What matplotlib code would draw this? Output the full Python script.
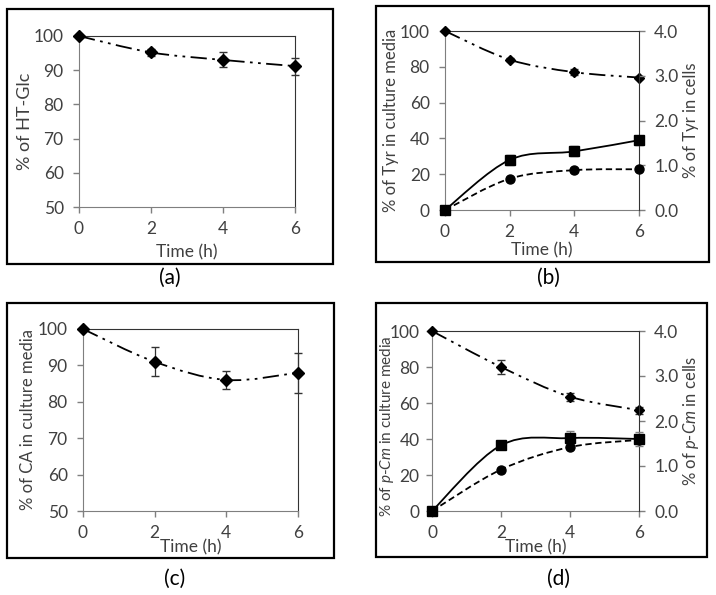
import matplotlib
matplotlib.use("Agg")
import matplotlib.pyplot as plt
import numpy as np
from matplotlib.path import Path
from matplotlib.patches import PathPatch, Rectangle

plt.rcParams['font.family'] = ['Lato', 'DejaVu Sans']
plt.rcParams['mathtext.fontset'] = 'custom'
plt.rcParams['mathtext.it'] = 'Lato:italic'
plt.rcParams['mathtext.rm'] = 'Lato'

time = [0, 2, 4, 6]

# panel (a)
htglc = [100, 95.2, 93.0, 91.2]
htglc_err = [0.3, 1.0, 2.2, 2.5]

# panel (b)
tyr_media = [100, 84, 77, 74]
tyr_media_err = [0.3, 1.0, 1.8, 0.8]
tyr_sq = [0.0, 1.12, 1.31, 1.56]
tyr_sq_err = [0.0, 0.12, 0.11, 0.10]
tyr_ci = [0.0, 0.70, 0.89, 0.91]
tyr_ci_err = [0.0, 0.03, 0.03, 0.03]

# panel (c)
ca = [100, 91, 86, 88]
ca_err = [0.3, 4.0, 2.5, 5.5]

# panel (d)
pcm_media = [100, 80, 63.5, 56]
pcm_media_err = [0.3, 4.0, 2.2, 2.0]
pcm_sq = [0.0, 1.46, 1.62, 1.60]
pcm_sq_err = [0.0, 0.03, 0.16, 0.16]
pcm_ci = [0.0, 0.92, 1.42, 1.58]
pcm_ci_err = [0.0, 0.04, 0.05, 0.05]

DASHDOTDOT = (0, (9, 3, 1.5, 3, 1.5, 3))
GREY = '#404040'
SPINE = '#7f7f7f'
TFS = 12.5   # tick font size


def smooth(ax, x, y, ls, lw=1.3):
    # excel-style smoothed line through the points (bezier segments)
    x = np.asarray(x, float)
    y = np.asarray(y, float)
    n = len(x)
    verts = [(x[0], y[0])]
    codes = [Path.MOVETO]
    for i in range(n - 1):
        p0 = np.array([x[max(i - 1, 0)], y[max(i - 1, 0)]])
        p1 = np.array([x[i], y[i]])
        p2 = np.array([x[i + 1], y[i + 1]])
        p3 = np.array([x[min(i + 2, n - 1)], y[min(i + 2, n - 1)]])
        c1 = p1 + (p2 - p0) / 6.0
        c2 = p2 - (p3 - p1) / 6.0
        verts += [tuple(c1), tuple(c2), tuple(p2)]
        codes += [Path.CURVE4] * 3
    ax.add_patch(PathPatch(Path(verts, codes), fill=False, lw=lw,
                           ls=ls, edgecolor='black', zorder=3))


def style(ax, ylim, yticks, ypad=7):
    ax.set_xlim(0, 6)
    ax.set_xticks(time)
    ax.set_ylim(*ylim)
    ax.set_yticks(yticks)
    for s in ['left', 'bottom']:
        ax.spines[s].set_color(SPINE)
    ax.spines['top'].set_color('#333333')
    ax.spines['right'].set_color('#333333')
    ax.tick_params(axis='both', direction='out', length=4, width=1,
                   color=SPINE, labelsize=TFS, labelcolor=GREY)
    ax.tick_params(axis='y', pad=ypad)
    ax.tick_params(axis='x', pad=6)


def labels(ax, ylabel, yfs, ylx, xly, yly=0.5):
    ax.set_ylabel(ylabel, fontsize=yfs, color=GREY, va='center')
    ax.set_xlabel('Time (h)', fontsize=12.5, color=GREY, va='center')
    ax.yaxis.set_label_coords(ylx, yly)
    ax.xaxis.set_label_coords(0.5, xly)


fig = plt.figure(figsize=(7.16, 5.95), dpi=100)
W, H = 716.0, 595.0


def frame(x0, y0, x1, y1):
    fig.patches.append(Rectangle((x0 / W, 1 - y1 / H), (x1 - x0) / W, (y1 - y0) / H,
                                 transform=fig.transFigure, fill=False,
                                 lw=1.6, edgecolor='black'))


def axbox(l, t, r, b):
    return fig.add_axes([l / W, 1 - b / H, (r - l) / W, (b - t) / H])


def single(l, t, r, b, vals, errs, ylabel, yfs, ylx, xly):
    ax = axbox(l, t, r, b)
    style(ax, (50, 100), [50, 60, 70, 80, 90, 100])
    smooth(ax, time, vals, DASHDOTDOT)
    ax.errorbar(time, vals, yerr=errs, fmt='D', color='black', ms=6,
                ecolor='#333333', elinewidth=0.9, capsize=3, zorder=4, clip_on=False)
    labels(ax, ylabel, yfs, ylx, xly)
    return ax


def double(l, t, r, b, media, media_err, sq, sq_err, ci, ci_err,
           ylabel, y2label, yfs, ylx, y2lx, xly, ypad=7, yly=0.5):
    ax = axbox(l, t, r, b)
    style(ax, (0, 100), [0, 20, 40, 60, 80, 100], ypad)
    ax.spines['right'].set_visible(False)
    smooth(ax, time, media, DASHDOTDOT)
    ax.errorbar(time, media, yerr=media_err, fmt='D', color='black', ms=5,
                ecolor='#333333', elinewidth=0.9, capsize=3, zorder=4, clip_on=False)
    labels(ax, ylabel, yfs, ylx, xly, yly)
    ax2 = ax.twinx()
    ax2.set_ylim(0, 4)
    ax2.set_yticks([0, 1, 2, 3, 4])
    ax2.set_yticklabels(['%.1f' % v for v in [0, 1, 2, 3, 4]])
    for s in ['left', 'bottom', 'top']:
        ax2.spines[s].set_visible(False)
    ax2.spines['right'].set_color('#333333')
    ax2.tick_params(axis='y', direction='out', length=4, width=1, color=SPINE,
                    labelsize=TFS, labelcolor=GREY, pad=7)
    smooth(ax2, time, sq, '-')
    smooth(ax2, time, ci, (0, (3.5, 2)))
    ax2.errorbar(time, sq, yerr=sq_err, fmt='s', color='black', ms=6.5,
                 ecolor='#808080', elinewidth=0.9, capsize=3, zorder=4, clip_on=False)
    ax2.errorbar(time, ci, yerr=ci_err, fmt='o', color='black', ms=6.5,
                 ecolor='#808080', elinewidth=0.9, capsize=3, zorder=4, clip_on=False)
    ax2.set_ylabel(y2label, fontsize=12, color=GREY, va='center')
    ax2.yaxis.set_label_coords(y2lx, 0.5)
    return ax


frame(7, 9, 333, 264)
single(79, 36, 295, 207, htglc, htglc_err, '% of HT-Glc', 13, -0.25, -0.263)
fig.text(170 / W, 1 - 278 / H, '(a)', fontsize=15, ha='center', va='center')

frame(376, 6, 709, 262)
double(445, 31, 639, 210, tyr_media, tyr_media_err, tyr_sq, tyr_sq_err,
       tyr_ci, tyr_ci_err, '% of Tyr in culture media', '% of Tyr in cells',
       12, -0.278, 1.268, -0.223)
fig.text(548 / W, 1 - 278 / H, '(b)', fontsize=15, ha='center', va='center')

frame(7, 303, 334, 558)
single(83, 329, 298, 511, ca, ca_err, '% of CA in culture media', 12, -0.256, -0.198)
fig.text(175 / W, 1 - 579 / H, '(c)', fontsize=15, ha='center', va='center')

frame(376, 303, 707, 557)
double(432, 331, 639, 511, pcm_media, pcm_media_err, pcm_sq, pcm_sq_err,
       pcm_ci, pcm_ci_err, r'% of $p$-$Cm$ in culture media', r'% of $p$-$Cm$ in cells',
       11, -0.218, 1.251, -0.2, ypad=5, yly=0.47)
fig.text(558 / W, 1 - 579 / H, '(d)', fontsize=15, ha='center', va='center')

fig.savefig('out.png', dpi=100)
